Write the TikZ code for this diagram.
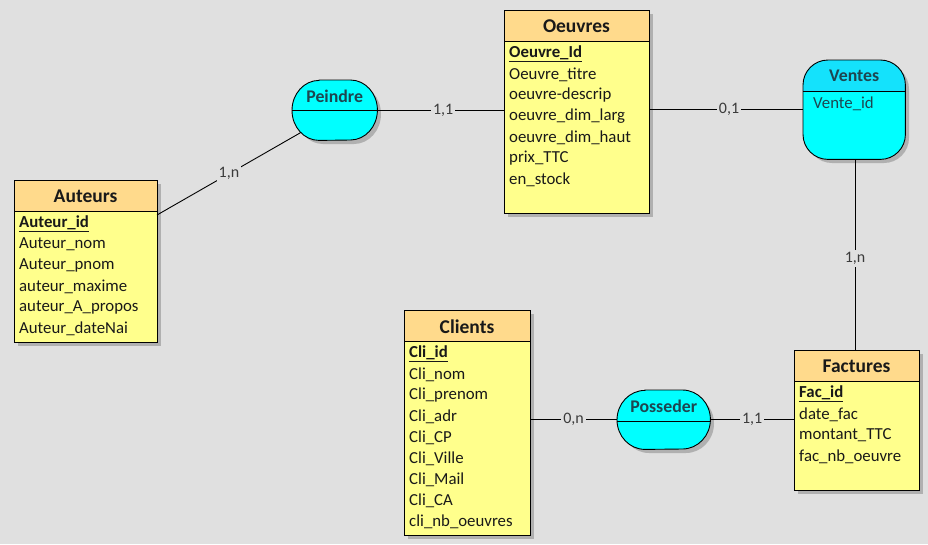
\documentclass[tikz,border=0pt]{standalone}
\usepackage{fontspec}
\setmainfont{Carlito}
\usetikzlibrary{calc}
\definecolor{bgc}{RGB}{224,224,224}
\definecolor{headc}{RGB}{255,218,140}
\definecolor{bodyc}{RGB}{255,255,140}
\definecolor{assoc}{RGB}{0,255,255}
\definecolor{assohead}{RGB}{20,226,252}
\definecolor{shadowc}{RGB}{165,165,165}
\definecolor{txtc}{RGB}{25,25,25}
\definecolor{asstxt}{RGB}{30,70,80}
\tikzset{
  tablebox/.style={rectangle, draw=black, fill=bodyc, inner sep=0pt, outer sep=0pt, anchor=north west},
  tabtitle/.style={font=\fontsize{19.5}{20}\selectfont\bfseries, text=txtc, inner sep=0pt},
  attr/.style={font=\fontsize{16.8}{18}\selectfont, text=txtc, inner sep=0pt, anchor=west},
  keyattr/.style={font=\fontsize{16.8}{18}\selectfont\bfseries, text=txtc, inner sep=0pt, anchor=west},
  asstitle/.style={font=\fontsize{17.8}{19}\selectfont\bfseries, text=asstxt, inner sep=0pt},
  card/.style={font=\fontsize{16}{17}\selectfont, text=txtc!85, fill=bgc, inner sep=2pt},
  link/.style={draw=black, line width=0.9pt},
  shadowfill/.style={fill=shadowc, opacity=0.8}
}
% #1 name, #2 x, #3 y, #4 w, #5 h, #6 title, #7 key, #8 attrs
\newcommand\ertable[8]{%
  \fill[shadowfill] (#2+4,#3+4) rectangle (#2+#4+4,#3+#5+4);
  \node[tablebox, minimum width=#4pt, minimum height=#5pt] (#1) at (#2,#3) {};
  \fill[headc] (#1.north west) rectangle ($(#1.north east)+(0,31)$);
  \draw[line width=0.9pt] (#1.north west) rectangle (#1.south east);
  \draw[line width=0.9pt] ($(#1.north west)+(0,31)$) -- ($(#1.north east)+(0,31)$);
  \node[tabtitle] (#1-title) at ($(#1.north)+(0,16.5)$) {#6};
  \node[keyattr] (#1-key) at ($(#1.north west)+(5,43.5)$) {\underline{#7}};
  \foreach \a [count=\i] in {#8} {
    \node[attr] (#1-a\i) at ($(#1.north west)+(5,43.5+21*\i)$) {\a};
  }
}
\begin{document}
\begin{tikzpicture}[x=1pt,y=-1pt]
\fill[bgc] (0,0) rectangle (928,544);
\useasboundingbox (0,0) rectangle (928,544);

% Tables
\ertable{auteurs}{14}{180}{143}{162}{Auteurs}{Auteur\_id}{Auteur\_nom,Auteur\_pnom,auteur\_maxime,auteur\_A\_propos,Auteur\_dateNai}
\ertable{oeuvres}{504}{10}{145}{203}{Oeuvres}{Oeuvre\_Id}{Oeuvre\_titre,oeuvre-descrip,oeuvre\_dim\_larg,oeuvre\_dim\_haut,prix\_TTC,en\_stock}
\ertable{clients}{404}{310}{126}{225}{Clients}{Cli\_id}{Cli\_nom,Cli\_prenom,Cli\_adr,Cli\_CP,Cli\_Ville,Cli\_Mail,Cli\_CA,cli\_nb\_oeuvres}
\ertable{factures}{794}{350}{125}{140}{Factures}{Fac\_id}{date\_fac,montant\_TTC,fac\_nb\_oeuvre}

% Associations: Peindre
\node[rectangle, inner sep=0pt, minimum width=85pt, minimum height=60pt, anchor=north west] (peindre) at (292,80) {};
\fill[shadowfill] (296+27,84) -- (296+58,84) arc[start angle=-90,end angle=90,x radius=27,y radius=30] -- (296+27,144) arc[start angle=90,end angle=270,x radius=27,y radius=30] -- cycle;
\filldraw[fill=assoc, draw=black, line width=0.9pt] ($(peindre.north west)+(27,0)$) -- ($(peindre.north east)+(-27,0)$) arc[start angle=-90,end angle=90,x radius=27,y radius=30] -- ($(peindre.south west)+(27,0)$) arc[start angle=90,end angle=270,x radius=27,y radius=30] -- cycle;
\draw[line width=0.9pt] (peindre.west) -- (peindre.east);
\node[asstitle] (peindre-title) at ($(peindre.north)+(0,16)$) {Peindre};

% Posseder
\node[rectangle, inner sep=0pt, minimum width=93pt, minimum height=59pt, anchor=north west] (posseder) at (617,390) {};
\fill[shadowfill] (621+28,394) -- (621+65,394) arc[start angle=-90,end angle=90,x radius=28,y radius=29.5] -- (621+28,453) arc[start angle=90,end angle=270,x radius=28,y radius=29.5] -- cycle;
\filldraw[fill=assoc, draw=black, line width=0.9pt] ($(posseder.north west)+(28,0)$) -- ($(posseder.north east)+(-28,0)$) arc[start angle=-90,end angle=90,x radius=28,y radius=29.5] -- ($(posseder.south west)+(28,0)$) arc[start angle=90,end angle=270,x radius=28,y radius=29.5] -- cycle;
\draw[line width=0.9pt] ($(posseder.north west)+(0,31)$) -- ($(posseder.north east)+(0,31)$);
\node[asstitle] (posseder-title) at ($(posseder.north)+(0,16.5)$) {Posseder};

% Ventes
\fill[shadowfill, rounded corners=25pt] (807,64) rectangle (909,163);
\node[rectangle, inner sep=0pt, minimum width=102pt, minimum height=99pt, anchor=north west] (ventes) at (803,60) {};
\begin{scope}
  \clip[rounded corners=25pt] (ventes.north west) rectangle (ventes.south east);
  \fill[assoc] (ventes.north west) rectangle (ventes.south east);
  \fill[assohead] (ventes.north west) rectangle ($(ventes.north east)+(0,31)$);
\end{scope}
\draw[line width=0.9pt, rounded corners=25pt] (ventes.north west) rectangle (ventes.south east);
\draw[line width=0.9pt] ($(ventes.north west)+(0,31)$) -- ($(ventes.north east)+(0,31)$);
\node[asstitle] (ventes-title) at ($(ventes.north)+(0,16)$) {Ventes};
\node[attr, text=asstxt] (ventes-a1) at ($(ventes.north west)+(10,43.5)$) {Vente\_id};

% Links
\coordinate (aut-link) at ($(auteurs.north east)+(0,35)$);
\coordinate (pein-link) at ($(peindre.south west)+(9,-8)$);
\draw[link] (aut-link) -- node[card] {1,n} (pein-link);
\draw[link] (peindre.east) -- node[card, pos=0.52] {1,1} (peindre.east -| oeuvres.west);
\draw[link] (oeuvres.east |- ventes.west) -- node[card, pos=0.52] {0,1} (ventes.west);
\draw[link] (ventes.south -| 855,0) -- node[card, pos=0.52] {1,n} (factures.north -| 855,0);
\draw[link] (clients.east |- posseder.west) -- node[card] {0,n} (posseder.west);
\draw[link] (posseder.east) -- node[card] {1,1} (posseder.east -| factures.west);
\end{tikzpicture}
\end{document}
